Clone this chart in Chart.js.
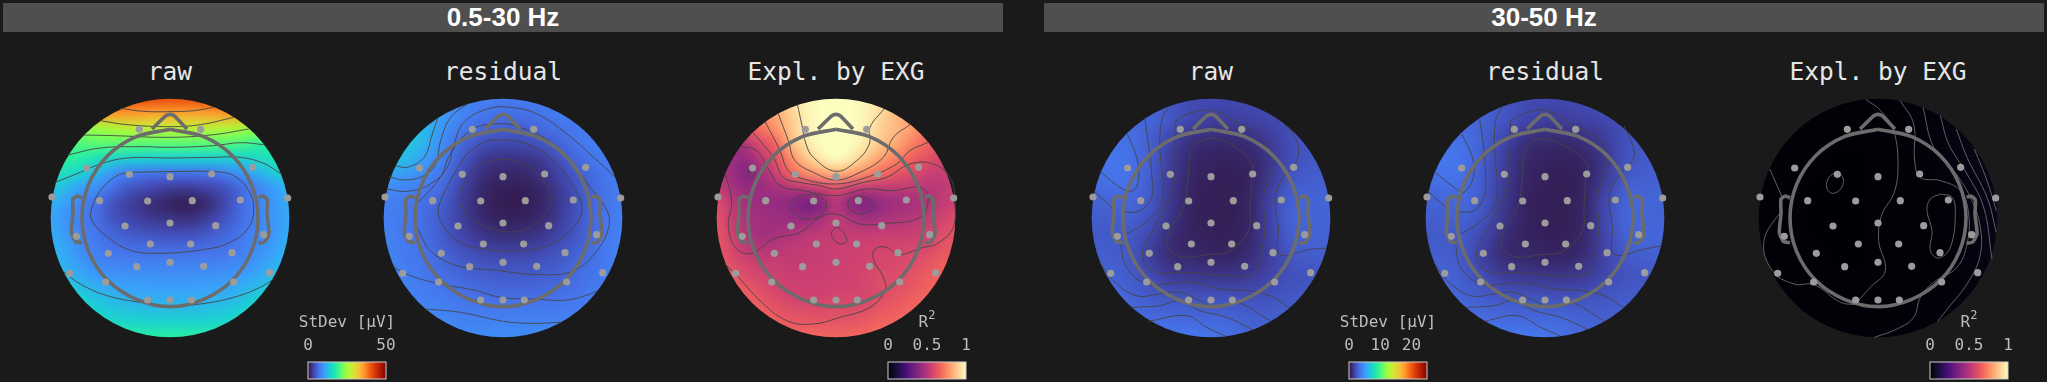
<!DOCTYPE html>
<html>
<head>
<meta charset="utf-8">
<title>EXG topomaps</title>
<script src="https://cdn.jsdelivr.net/npm/chart.js@4/dist/chart.umd.min.js"></script>
<style>
  html, body { margin: 0; padding: 0; background: #1a1a1a; width: 2047px; height: 382px; overflow: hidden; }
  canvas { position: absolute; }
  .band { position: absolute; top: 3px; height: 29px; width: 1000px; background: #4f4f4f; color: #fff;
          font: bold 26px "Liberation Sans", sans-serif; line-height: 29px; text-align: center; }
  .maptitle { position: absolute; top: 57px; width: 300px; text-align: center; color: #e6e6e6;
          font: 24.5px "DejaVu Sans Mono", monospace; line-height: 30px; }
  .bartitle { position: absolute; top: 312px; width: 158px; text-align: center; color: #bdbdbd;
          font: 16px "DejaVu Sans Mono", monospace; line-height: 20px; }
  .bartitle sup { font-size: 12px; line-height: 0; vertical-align: 8px; }
</style>
</head>
<body>
<script>
// band headers and map titles
const bandLabels = ["0.5-30 Hz", "30-50 Hz"];
const mapTitles = ["raw", "residual", "Expl. by EXG", "raw", "residual", "Expl. by EXG"];

// sensor positions, head units (head edge of the map = 358)
const sensorX = [-92, 92, -250, 248, -122, 0, 125, -354, 353, -211, -67, 67, 211, -135, 0, 137, -281, 281, -59, 62, -185, 186, -100, 0, 101, -301, 299, -193, 191, -67, 0, 64];
const sensorY = [266, 266, 150, 152, 131, 124, 132, 63, 60, 52, 51, 52, 54, -24, -15, -23, -55, -50, -78, -78, -106, -104, -146, -133, -145, -166, -164, -192, -192, -246, -246, -246];

// head outline
const headRing = [[0,266],[101,244],[187,187],[244,101],[264,0],[244,-101],[187,-187],[101,-244],[0,-266],[-101,-244],[-187,-187],[-244,-101],[-264,0],[-244,101],[-187,187],[-101,244],[0,266]];
const headNose = [[-54,267],[-12,307],[0,311],[12,307],[51,267]];
const headEarL = [[-264,60],[-277,66],[-291,57],[-291,12],[-296,-43],[-284,-70],[-264,-74]];
const headEarR = [[266,62],[279,66],[292,54],[291,12],[297,-48],[284,-72],[266,-76]];

// values on a regular grid, top row first, left to right (µV or R²)
const raw1 = [
  [41,41,41,41,41,41,41,41,41,41,41,41,41,41,41,41,41],
  [37,37,37,36,36,36,35.5,35,35,35,35,35.5,36,36,37,37,37],
  [24,24,24,24.5,25.5,26.5,27,27,27,27,27,26.5,26,25,24.5,24,24],
  [20,20,20.5,21,21,21,21,21,21,21,21,20.8,20.5,19.8,18.5,18,18],
  [18,18.5,18,16.5,15.5,14.8,14.5,14.5,14.5,14.5,14.5,14.5,14.5,14.7,15.8,16.5,17],
  [17,16,14.5,12.5,10,8,7.5,7,7,7,7,7.2,8.5,10,12,14,15],
  [13.5,12.5,10.5,9,7,5.2,4.2,3.5,3,2.8,3.2,3.8,5,6.8,8.5,10.5,12],
  [12,10.5,8.5,7,4.8,3.5,2.5,1.8,1.3,.9,1.3,2.5,4.5,6.8,8.5,10,11.5],
  [11,9.5,8,6.8,5,3.8,3.1,2.6,2.3,2,2.5,3.5,5.2,6.8,8.5,10,11],
  [11.5,10,8.3,7.2,6,5.2,4.7,4.4,4.1,4.1,4.6,5.4,6.3,7.5,8.7,10,11.5],
  [12,11,9,7.8,7,6.8,6.5,6.4,6.3,6.3,6.5,6.8,7.1,8,9.2,10.5,12],
  [13,11.5,10,8.8,8.2,8,8,8,8,8,8,8,8.4,9,10.2,11.5,12.5],
  [14,13,11.5,10.5,10,9.8,9.6,9.5,9.5,9.5,9.6,9.8,10,10.7,11.5,13,14],
  [15,15,13.8,12.5,11.8,11.3,11,11,11,11,11,11.2,11.6,12.5,13.8,15,15],
  [16,16,15.5,14.3,13.5,13,12.8,12.5,12.5,12.5,12.7,13,13.5,14.3,15.5,16,16],
  [17,17,17,16,15.5,15,15,15,15,15,15,15,15.5,16,17,17,17],
  [19,19,19,19,18.5,18.5,18,18,18,18,18,18.5,18.5,19,19,19,19]
];
const residual1 = [
  [9,9,9,9,8.5,8,7.5,7.5,7.5,7.5,7.5,7.5,7.5],
  [12,12,12,10,8,7,6.5,6.5,7,7.5,7.5,7.5,7.5],
  [14,14,12.5,9,6.5,5,4.5,4.5,5.5,6.5,7.5,8,8],
  [13,13,10.5,8,5,2.8,2.3,2.4,3,5,6.7,7.6,8],
  [10,9.5,8.5,6.8,3.7,1.8,1.3,1.3,2,3.5,5.6,7,8],
  [8,7.8,7,5.5,3,1.4,.8,.8,1.4,3,5.2,6.8,7.8],
  [8,7.5,6.5,5,3,1.6,1.1,1.1,1.7,3.2,5.3,7,8],
  [8.2,7.5,6.8,5.2,3.6,2.6,2.2,2.3,2.8,4,5.6,7.2,8.2],
  [8.3,7.8,7,6,5,4.3,4,4,4.5,5.2,6.3,7.4,8.3],
  [8.5,8,7.4,6.7,6,5.6,5.3,5.3,5.6,6,6.8,7.6,8.4],
  [8.8,8.5,8,7.5,7,6.8,6.6,6.6,6.8,7,7.4,8,8.5],
  [9,9,8.7,8.4,8,7.9,7.9,8,8,8,8.2,8.5,8.7],
  [9.5,9.5,9.2,9,9,9,9,9,9,9,9,9,9]
];
const explained1 = [
  [.9,.9,.9,.9,.92,.95,.98,1,1,1,.98,.95,.92,.9,.9,.9,.9],
  [.75,.75,.75,.78,.82,.9,.98,1,1,1,.98,.92,.86,.8,.78,.75,.75],
  [.6,.62,.65,.7,.78,.88,.97,1,1,1,.97,.9,.85,.8,.72,.68,.66],
  [.42,.44,.5,.6,.68,.85,.95,1,1,1,.95,.88,.82,.74,.68,.62,.6],
  [.46,.44,.42,.52,.62,.76,.88,.96,1,.96,.88,.8,.74,.67,.62,.58,.56],
  [.5,.44,.38,.45,.56,.67,.75,.8,.84,.8,.74,.69,.64,.6,.56,.54,.54],
  [.55,.47,.42,.44,.46,.49,.52,.55,.6,.55,.52,.52,.52,.52,.5,.52,.54],
  [.6,.52,.45,.44,.42,.4,.34,.38,.5,.4,.36,.42,.45,.46,.48,.52,.56],
  [.62,.54,.47,.45,.44,.43,.42,.46,.52,.48,.45,.46,.48,.5,.52,.56,.6],
  [.63,.56,.48,.45,.46,.48,.5,.52,.53,.53,.53,.54,.54,.54,.56,.6,.62],
  [.64,.58,.52,.49,.5,.52,.53,.54,.55,.55,.56,.57,.57,.58,.58,.62,.64],
  [.66,.6,.57,.54,.54,.53,.54,.54,.55,.56,.57,.58,.59,.6,.62,.65,.66],
  [.68,.65,.6,.58,.56,.55,.55,.55,.56,.56,.58,.6,.6,.62,.65,.67,.68],
  [.7,.68,.65,.61,.58,.56,.56,.56,.57,.57,.58,.6,.62,.64,.67,.68,.7],
  [.72,.7,.68,.65,.62,.6,.59,.59,.6,.6,.6,.63,.65,.67,.69,.7,.72],
  [.72,.7,.7,.68,.66,.64,.64,.63,.63,.63,.65,.67,.68,.7,.7,.72,.72],
  [.72,.72,.72,.7,.7,.68,.68,.68,.68,.68,.68,.7,.7,.72,.72,.72,.72]
];
const raw2 = [
  [2.6,2.6,2.6,2.6,2.3,2,1.9,1.9,2,2.1,2.2,2.3,2.4],
  [3,3,3,3,2.4,1.9,1.6,1.6,1.7,1.9,2.2,2.4,2.5],
  [3.3,3.4,3.3,2.7,1.8,1.1,.9,.9,1.1,1.5,2.1,2.4,2.5],
  [3.4,3.6,3.4,2.7,1.5,.8,.6,.55,.7,1.3,2.1,2.5,2.6],
  [3.2,3.5,3.4,2.6,1.4,.7,.5,.45,.6,1.4,2.4,2.7,2.7],
  [2.9,3.1,3.1,2.5,1.3,.6,.45,.45,.7,1.7,2.8,2.9,2.9],
  [2.6,2.7,2.8,2.2,1.2,.6,.45,.45,.7,1.8,2.9,2.9,2.9],
  [2.6,2.6,2.5,1.7,.9,.6,.5,.5,.8,1.7,2.7,2.9,2.9],
  [2.8,2.7,2.4,1.5,.9,.8,.7,.7,1,1.6,2.4,2.6,2.7],
  [3,2.9,2.6,2,1.5,1.4,1.3,1.3,1.5,1.8,2.2,2.3,2.5],
  [3.2,3.2,2.9,2.6,2.4,2.3,2.3,2.2,2.2,2.3,2.5,2.6,2.6],
  [3.4,3.4,3.3,3.1,3.1,3,3,2.9,2.7,2.7,2.7,2.7,2.7],
  [3.7,3.7,3.7,3.6,3.7,3.7,3.5,3.3,3,2.9,2.8,2.8,2.8]
];
const residual2 = [
  [2.7,2.7,2.7,2.6,2.3,2,1.9,1.9,2,2.1,2.3,2.4,2.5],
  [3.1,3.1,3,2.9,2.4,1.9,1.6,1.6,1.7,1.9,2.2,2.5,2.6],
  [3.4,3.5,3.3,2.7,1.8,1.1,.9,.9,1.1,1.5,2.2,2.5,2.6],
  [3.5,3.7,3.4,2.6,1.5,.8,.6,.55,.7,1.3,2.2,2.6,2.7],
  [3.2,3.5,3.3,2.5,1.4,.7,.5,.45,.6,1.4,2.5,2.8,2.8],
  [2.9,3.1,3.1,2.4,1.3,.6,.45,.45,.7,1.8,2.9,3,2.9],
  [2.7,2.7,2.8,2.2,1.2,.6,.45,.45,.7,1.9,3,3,2.9],
  [2.6,2.6,2.5,1.7,.9,.6,.5,.5,.8,1.8,2.8,3,3],
  [2.8,2.7,2.4,1.5,.9,.8,.7,.7,1,1.7,2.5,2.7,2.8],
  [3,2.9,2.6,2,1.5,1.4,1.3,1.3,1.5,1.9,2.3,2.4,2.6],
  [3.2,3.2,2.9,2.6,2.4,2.3,2.3,2.2,2.3,2.4,2.6,2.7,2.7],
  [3.4,3.4,3.3,3.2,3.1,3,3,3,2.8,2.8,2.8,2.8,2.8],
  [3.7,3.7,3.7,3.7,3.7,3.7,3.6,3.4,3.1,3,2.9,2.9,2.9]
];
const explained2 = [
  [.006,.006,.006,.006,.006,.006,.006,.008,.012,.016,.02,.024,.028],
  [.006,.006,.006,.005,.005,.005,.006,.008,.012,.018,.024,.03,.034],
  [.006,.006,.005,.004,.004,.004,.005,.007,.011,.018,.026,.034,.04],
  [.006,.005,.005,.004,.003,.003,.004,.006,.01,.016,.026,.036,.044],
  [.006,.005,.004,.003,.003,.003,.004,.005,.008,.012,.022,.034,.044],
  [.006,.005,.004,.003,.003,.003,.004,.005,.006,.006,.016,.03,.04],
  [.007,.005,.004,.003,.003,.003,.004,.005,.005,.005,.014,.028,.038],
  [.008,.006,.004,.003,.003,.003,.004,.004,.005,.006,.014,.026,.034],
  [.008,.007,.005,.004,.003,.003,.004,.004,.005,.006,.013,.024,.03],
  [.009,.008,.006,.005,.004,.004,.004,.005,.006,.008,.014,.022,.026],
  [.01,.009,.008,.007,.006,.005,.005,.006,.008,.011,.016,.022,.026],
  [.01,.01,.009,.008,.007,.007,.007,.008,.011,.014,.018,.022,.024],
  [.01,.01,.01,.01,.01,.01,.01,.01,.012,.014,.016,.018,.018]
];

// contour lines, head units
const contoursRaw1 = [
  [[-149,329],[-79,320],[0,319],[71,322],[131,332]],
  [[-209,292],[-129,280],[0,274],[91,280],[191,302]],
  [[-259,249],[-169,247],[0,242],[131,250],[236,267]],
  [[-306,189],[-209,210],[-89,214],[0,212],[131,217],[211,226],[281,220]],
  [[-344,107],[-269,137],[-209,162],[-129,180],[0,180],[131,182],[211,182],[281,164],[336,130]],
  [[-124,137],[0,139],[131,139],[191,127],[236,82],[251,27],[236,-28],[181,-73],[91,-96],[-49,-106],[-129,-93],[-199,-48],[-234,-8],[-237,22],[-209,82],[-159,127],[-124,137]],
  [[-321,-160],[-269,-198],[-189,-233],[-89,-253],[0,-263],[91,-258],[191,-238],[271,-208],[311,-183]]
];
const contoursResidual1 = [
  [[-195,302],[-212,252],[-237,182],[-287,152],[-322,157]],
  [[-107,342],[-157,302],[-187,232],[-202,162],[-237,127],[-297,114],[-342,124]],
  [[337,122],[272,182],[192,252],[102,312],[22,332],[-47,327],[-117,287],[-147,222],[-167,152],[-217,102],[-287,80],[-349,87]],
  [[-258,42],[-188,122],[-158,192],[-98,262],[-28,282],[52,272],[162,212],[262,92],[312,22],[317,-28],[282,-98],[212,-158],[112,-170],[-28,-156],[-138,-143],[-218,-98],[-253,-38],[-263,-23]],
  [[-108,192],[-58,227],[2,234],[72,222],[152,172],[212,92],[237,32],[212,-28],[132,-83],[52,-98],[-58,-93],[-138,-68],[-188,-8],[-193,32],[-158,112],[-128,162],[-108,192]],
  [[-68,162],[-8,176],[62,162],[122,112],[142,52],[117,2],[52,-38],[-8,-38],[-78,-13],[-118,27],[-123,82],[-98,137],[-68,162]],
  [[-328,-148],[-278,-173],[-188,-198],[-88,-216],[-8,-238],[92,-243],[192,-246],[262,-228],[287,-216]],
  [[-233,-273],[-128,-283],[2,-310],[92,-316],[172,-313]]
];
const contoursExplained1 = [
  [[-116,342],[-103,282],[-90,222],[-68,182],[0,140],[62,172],[100,222],[102,272],[144,327]],
  [[-173,312],[-143,232],[-123,172],[-68,137],[0,114],[72,137],[142,182],[172,242],[222,280]],
  [[-213,290],[-168,202],[-143,142],[-98,117],[0,102],[92,122],[182,162],[222,202],[277,227]],
  [[-250,257],[-188,182],[-158,122],[-108,107],[-48,97],[2,87],[82,107],[152,122],[222,162],[292,162],[342,122],[357,52],[352,-28],[302,-78],[262,-88],[187,-110],[152,-88],[117,-93],[112,-123],[142,-178],[147,-218],[102,-268],[12,-298],[-68,-318],[-148,-308],[-228,-248],[-288,-183],[-333,-138]],
  [[-333,134],[-313,52],[-323,-28],[-298,-93],[-253,-106],[-188,-63],[-108,-43],[-48,2],[0,12],[72,-18],[152,-16],[252,2],[277,62],[252,92],[172,82],[92,87],[0,67],[-98,82],[-168,97],[-203,147],[-238,202],[-288,215]],
  [[-68,72],[-33,52],[-33,22],[-73,-3],[-118,7],[-140,37],[-118,62],[-68,72]],
  [[72,69],[112,47],[110,27],[72,12],[42,27],[37,52],[72,69]],
  [[-250,147],[-263,137],[-253,122],[-243,137],[-250,147]],
  [[2,-26],[22,-43],[32,-68],[12,-78],[-8,-63],[-13,-43],[2,-26]]
];
const contoursRaw2 = [
  [[-251,252],[-223,182],[-218,112],[-238,80],[-273,92],[-330,137]],
  [[-198,297],[-188,222],[-178,132],[-178,62],[-213,22],[-258,17]],
  [[-351,80],[-298,32]],
  [[-128,332],[-148,292],[-153,202],[-143,92],[-153,32],[-203,-18],[-253,-48]],
  [[-108,252],[-103,292],[-53,317],[7,322],[77,287],[147,242],[182,172],[157,62],[162,-28],[147,-118],[127,-168],[47,-173],[-73,-163],[-163,-163],[-198,-138],[-203,-93],[-163,-18],[-113,92],[-108,202],[-108,252]],
  [[-43,227],[2,239],[67,217],[122,162],[122,112],[117,32],[112,-38],[57,-98],[-13,-110],[-93,-116],[-128,-88],[-128,-48],[-83,32],[-68,122],[-63,192],[-43,227]],
  [[212,290],[257,232],[257,172],[217,122],[192,62],[202,-28],[202,-103],[227,-113],[287,-96],[347,-90]],
  [[-273,-68],[-253,-148],[-193,-198],[-123,-196],[-53,-193],[27,-213],[107,-218],[177,-233],[237,-270]],
  [[-333,-133],[-293,-188],[-223,-233],[-153,-228],[-93,-223],[-33,-248],[17,-268],[77,-253],[177,-308]],
  [[-238,-268],[-153,-263],[-93,-248],[-33,-278],[47,-298],[127,-336]],
  [[-188,-310],[-73,-293],[-13,-328],[47,-356]]
];
const contoursResidual2 = [
  [[-250,252],[-218,182],[-215,122],[-243,77],[-273,92],[-330,137]],
  [[-196,297],[-183,202],[-178,112],[-183,62],[-213,22],[-258,17]],
  [[-353,82],[-298,32]],
  [[-128,332],[-148,292],[-151,202],[-143,92],[-153,32],[-203,-18],[-253,-48]],
  [[-103,292],[-53,317],[7,322],[87,277],[167,232],[185,172],[157,62],[162,-28],[147,-118],[137,-163],[47,-173],[-73,-163],[-163,-163],[-198,-138],[-203,-93],[-163,-18],[-113,92],[-108,202],[-103,292]],
  [[-38,232],[2,237],[67,212],[127,162],[122,112],[117,32],[112,-38],[57,-98],[-13,-110],[-93,-116],[-128,-88],[-128,-48],[-83,32],[-68,122],[-63,192],[-38,232]],
  [[237,277],[265,212],[262,172],[217,122],[192,62],[202,-28],[202,-103],[227,-113],[287,-96],[350,-83]],
  [[-270,-68],[-253,-148],[-193,-198],[-103,-196],[-43,-198],[27,-213],[107,-218],[177,-233],[237,-270]],
  [[-333,-133],[-293,-188],[-223,-233],[-153,-228],[-93,-223],[-33,-248],[17,-268],[77,-253],[177,-308]],
  [[-238,-268],[-153,-263],[-93,-248],[-33,-278],[47,-298],[127,-333]],
  [[-183,-310],[-83,-293],[-13,-328],[47,-354]]
];
const contoursExplained2 = [
  [[-36,355],[8,322],[47,262],[60,152],[47,72],[12,12],[2,-68],[22,-158],[-23,-208],[-63,-253]],
  [[67,352],[107,282],[110,172],[127,122],[187,112],[247,82],[272,12],[267,-78],[237,-148],[167,-193],[127,-238],[107,-298],[57,-333],[-11,-358]],
  [[135,332],[167,212],[227,142],[277,62],[307,-28],[305,-118],[267,-198],[212,-268],[179,-310]],
  [[187,307],[212,222],[267,132],[317,32],[342,-123]],
  [[235,267],[267,182],[327,62],[355,-43]],
  [[289,207],[327,112],[355,22]],
  [[-122,140],[-104,117],[-112,87],[-137,74],[-154,92],[-147,122],[-122,140]],
  [[187,72],[222,62],[232,12],[217,-88],[182,-120],[157,-98],[162,-38],[147,22],[157,57],[187,72]],
  [[-325,147],[-287,62]],
  [[-287,27],[-342,-68],[-317,-158],[-252,-198],[-192,-200],[-112,-253],[-62,-260]]
];

// colormap stops
const turboStops = ["#30123b","#4145ab","#4675ed","#39a2fc","#1bcfd4","#24eca6","#61fc6c","#a4fc3b","#d1e834","#f3c63a","#fe9b2d","#f36315","#d93806","#b11901","#7a0403"];
const magmaStops = ["#000004","#180f3d","#440f76","#721f81","#9e2f7f","#cd4071","#f1605d","#fd9668","#feca8d","#fcfdbf"];

// colorbar ranges and ticks
const stdevTicks1 = [0, 50];
const stdevTicks2 = [0, 10, 20];
const r2Ticks = [0, 0.5, 1];

const HEAD_EDGE = 358;
const MAP_TOP = 98;
const MAP_PAD = 10;
const mapLefts = [50, 383, 716, 1091, 1425, 1758];
const maps = [
  { grid: raw1, vmax: 50, stops: turboStops, contours: contoursRaw1, line: "rgba(70,70,70,0.9)" },
  { grid: residual1, vmax: 50, stops: turboStops, contours: contoursResidual1, line: "rgba(70,70,70,0.9)" },
  { grid: explained1, vmax: 1, stops: magmaStops, contours: contoursExplained1, line: "rgba(70,70,70,0.9)" },
  { grid: raw2, vmax: 25, stops: turboStops, contours: contoursRaw2, line: "rgba(70,70,70,0.9)" },
  { grid: residual2, vmax: 25, stops: turboStops, contours: contoursResidual2, line: "rgba(70,70,70,0.9)" },
  { grid: explained2, vmax: 1, stops: magmaStops, contours: contoursExplained2, line: "rgba(105,105,105,0.9)" }
];
const colorbars = [
  { left: 308, text: "StDev [μV]", vmax: 50, ticks: stdevTicks1, stops: turboStops },
  { left: 888, text: "R<sup>2</sup>", vmax: 1, ticks: r2Ticks, stops: magmaStops },
  { left: 1349, text: "StDev [μV]", vmax: 25, ticks: stdevTicks2, stops: turboStops },
  { left: 1930, text: "R<sup>2</sup>", vmax: 1, ticks: r2Ticks, stops: magmaStops }
];

function hexToRgb(h) {
  return [parseInt(h.slice(1, 3), 16), parseInt(h.slice(3, 5), 16), parseInt(h.slice(5, 7), 16)];
}

function colorAt(stops, t) {
  t = Math.max(0, Math.min(1, t)) * (stops.length - 1);
  const i = Math.min(Math.floor(t), stops.length - 2);
  const a = hexToRgb(stops[i]), b = hexToRgb(stops[i + 1]), f = t - i;
  return [0, 1, 2].map(k => Math.round(a[k] + (b[k] - a[k]) * f));
}

// paints the value grid, clipped to the head disc, through the chart's scales
const heatmapPlugin = {
  id: "heatmap",
  beforeDatasetsDraw(chart, args, opts) {
    const grid = opts.grid, rows = grid.length, cols = grid[0].length;
    const off = document.createElement("canvas");
    off.width = cols; off.height = rows;
    const octx = off.getContext("2d");
    const img = octx.createImageData(cols, rows);
    for (let r = 0; r < rows; r++) {
      for (let c = 0; c < cols; c++) {
        const rgb = colorAt(opts.stops, grid[r][c] / opts.vmax);
        const p = (r * cols + c) * 4;
        img.data[p] = rgb[0]; img.data[p + 1] = rgb[1]; img.data[p + 2] = rgb[2]; img.data[p + 3] = 255;
      }
    }
    octx.putImageData(img, 0, 0);

    const xs = chart.scales.x, ys = chart.scales.y;
    const halfW = HEAD_EDGE / (cols - 1), halfH = HEAD_EDGE / (rows - 1);
    const x0 = xs.getPixelForValue(-HEAD_EDGE - halfW), x1 = xs.getPixelForValue(HEAD_EDGE + halfW);
    const y0 = ys.getPixelForValue(HEAD_EDGE + halfH), y1 = ys.getPixelForValue(-HEAD_EDGE - halfH);
    const ctx = chart.ctx;
    ctx.save();
    ctx.beginPath();
    ctx.arc(xs.getPixelForValue(0), ys.getPixelForValue(0), xs.getPixelForValue(HEAD_EDGE) - xs.getPixelForValue(0), 0, Math.PI * 2);
    ctx.clip();
    ctx.imageSmoothingEnabled = true;
    ctx.imageSmoothingQuality = "high";
    ctx.drawImage(off, x0, y0, x1 - x0, y1 - y0);
    ctx.restore();
  }
};

// colorbar body, spans the x scale
const colorbarPlugin = {
  id: "colorbar",
  beforeDatasetsDraw(chart, args, opts) {
    const a = chart.chartArea, ctx = chart.ctx;
    const g = ctx.createLinearGradient(a.left, 0, a.right, 0);
    opts.stops.forEach((c, i) => g.addColorStop(i / (opts.stops.length - 1), c));
    ctx.save();
    ctx.fillStyle = g;
    ctx.fillRect(a.left, a.top, a.right - a.left, a.bottom - a.top);
    ctx.strokeStyle = "#cfcfcf";
    ctx.lineWidth = 1;
    ctx.strokeRect(a.left, a.top, a.right - a.left, a.bottom - a.top);
    ctx.restore();
  }
};

function addCanvas(left, top, w, h) {
  const cv = document.createElement("canvas");
  cv.width = w; cv.height = h;
  cv.style.left = left + "px";
  cv.style.top = top + "px";
  cv.style.width = w + "px";
  cv.style.height = h + "px";
  document.body.appendChild(cv);
  return cv;
}

const toXY = pts => pts.map(p => ({ x: p[0], y: p[1] }));

bandLabels.forEach((label, i) => {
  const d = document.createElement("div");
  d.className = "band";
  d.style.left = (i === 0 ? 3 : 1044) + "px";
  d.textContent = label;
  document.body.appendChild(d);
});

maps.forEach((m, i) => {
  const t = document.createElement("div");
  t.className = "maptitle";
  t.style.left = (mapLefts[i] + 120 - 150) + "px";
  t.textContent = mapTitles[i];
  document.body.appendChild(t);

  const lines = m.contours.map(c => ({
    data: toXY(c), showLine: true, pointRadius: 0, borderColor: m.line, borderWidth: 1, tension: 0.4, order: 3, clip: false
  }));
  const head = [headRing, headNose, headEarL, headEarR].map((h, k) => ({
    data: toXY(h), showLine: true, pointRadius: 0, borderColor: "#6c6c6c", borderWidth: 3.6, tension: k === 0 ? 0.34 : 0.2, order: 2, clip: false
  }));
  const sensors = {
    data: sensorX.map((x, k) => ({ x: x, y: sensorY[k] })),
    pointRadius: 3.6, pointBackgroundColor: "#9c9c9c", pointBorderWidth: 0, showLine: false, order: 1, clip: false
  };

  new Chart(addCanvas(mapLefts[i] - MAP_PAD, MAP_TOP - MAP_PAD, 240 + MAP_PAD * 2, 240 + MAP_PAD * 2), {
    type: "scatter",
    data: { datasets: lines.concat(head, [sensors]) },
    options: {
      responsive: false,
      animation: false,
      events: [],
      layout: { autoPadding: false, padding: MAP_PAD },
      scales: {
        x: { type: "linear", min: -360, max: 360, display: false },
        y: { type: "linear", min: -360, max: 360, display: false }
      },
      plugins: {
        legend: { display: false },
        tooltip: { enabled: false },
        heatmap: { grid: m.grid, vmax: m.vmax, stops: m.stops }
      }
    },
    plugins: [heatmapPlugin]
  });
});

colorbars.forEach(b => {
  const t = document.createElement("div");
  t.className = "bartitle";
  t.style.left = (b.left - 40) + "px";
  t.innerHTML = b.text;
  document.body.appendChild(t);

  new Chart(addCanvas(b.left - 40, 312, 158, 68), {
    type: "scatter",
    data: { datasets: [] },
    options: {
      responsive: false,
      animation: false,
      events: [],
      layout: { autoPadding: false, padding: { left: 40, right: 40, bottom: 1 } },
      scales: {
        x: {
          type: "linear", position: "top", min: 0, max: b.vmax,
          grid: { display: false, drawTicks: false },
          border: { display: false },
          afterBuildTicks: s => { s.ticks = b.ticks.map(v => ({ value: v })); },
          afterFit: s => { s.height = 50; },
          ticks: {
            color: "#bdbdbd", padding: 7, autoSkip: false, maxRotation: 0,
            font: { family: "DejaVu Sans Mono", size: 16 },
            callback: v => String(v)
          }
        },
        y: { display: false, min: 0, max: 1 }
      },
      plugins: {
        legend: { display: false },
        tooltip: { enabled: false },
        colorbar: { stops: b.stops }
      }
    },
    plugins: [colorbarPlugin]
  });
});
</script>
</body>
</html>
